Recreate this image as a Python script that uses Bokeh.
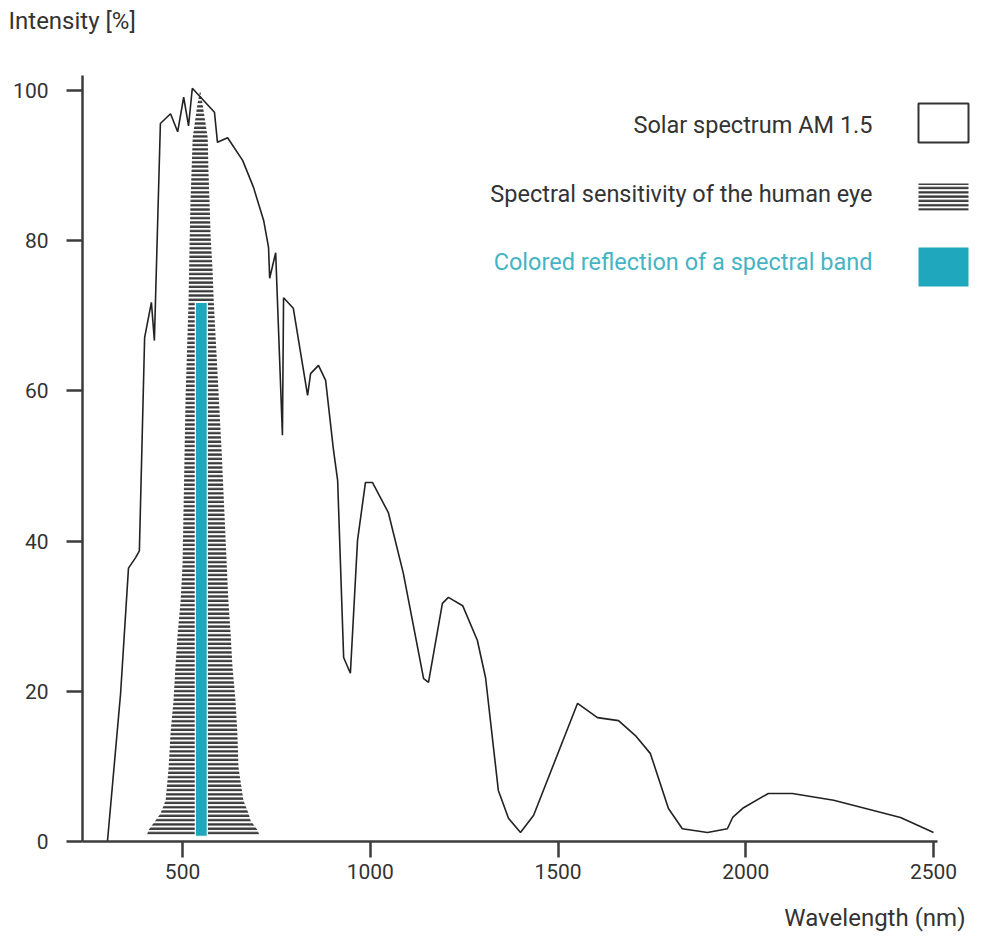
from bokeh.plotting import figure
from bokeh.models import Range1d, FixedTicker, Label
from bokeh.embed import file_html
from bokeh.resources import INLINE

# ---------------- data ----------------
solar_nm = [300, 335, 356, 375, 385, 399, 417, 425, 441, 468, 487, 503, 516, 526,
            585, 593, 620, 660, 689, 716, 729, 732, 748, 766, 769, 795, 833, 841,
            862, 881, 902, 913, 929, 947, 966, 987, 1006, 1048, 1088, 1142, 1155,
            1192, 1208, 1246, 1285, 1307, 1341, 1368, 1400, 1435, 1552, 1605, 1661,
            1706, 1746, 1794, 1831, 1898, 1951, 1965, 1994, 2060, 2124, 2234, 2412, 2500]
solar_pct = [0, 19.7, 36.4, 37.8, 38.7, 67.1, 71.8, 66.7, 95.6, 96.9, 94.5, 99.1, 95.3, 100.3,
             97.1, 93.1, 93.7, 90.7, 87.1, 82.7, 79.1, 75.0, 78.4, 54.1, 72.4, 71.0, 59.4, 62.3,
             63.4, 61.4, 52.1, 48.1, 24.5, 22.4, 40.1, 47.8, 47.8, 43.8, 35.7, 21.7, 21.2,
             31.7, 32.5, 31.4, 26.8, 21.8, 6.8, 3.1, 1.2, 3.5, 18.4, 16.5, 16.1,
             14.1, 11.7, 4.4, 1.7, 1.2, 1.7, 3.2, 4.5, 6.4, 6.4, 5.5, 3.2, 1.2]

# spectral sensitivity of the human eye (outline of the hatched area)
eye_nm = [405, 409, 428, 441, 455, 463, 468, 476, 481, 487, 495, 500, 508, 516, 519, 521,
          524, 527, 540, 547, 553, 567, 569, 572, 575, 580, 583, 604, 622, 628, 633, 641,
          646, 649, 662, 676, 681, 700, 705]
eye_pct = [0.8, 1.5, 2.8, 3.7, 5.5, 9.9, 14.4, 18.8, 23.2, 27.7, 32.1, 37.0, 59.1, 72.0, 80.4, 85.0,
           89.3, 93.7, 98.3, 100.0, 98.3, 93.7, 89.3, 85.0, 80.4, 76.0, 72.0, 52.1, 32.1, 27.7, 23.2, 18.8,
           14.4, 9.9, 5.5, 3.7, 2.8, 1.5, 0.8]

# coloured reflection of a spectral band
band_left = [534]
band_right = [566]
band_bottom = [0.7]
band_top = [71.8]

x_ticks = [500, 1000, 1500, 2000, 2500]
y_ticks = [0, 20, 40, 60, 80, 100]

legend_labels = ["Solar spectrum AM 1.5",
                 "Spectral sensitivity of the human eye",
                 "Colored reflection of a spectral band"]

# ---------------- style ----------------
FONT = "Roboto"
TEXT = "#333333"
AXIS = "#3c3c3c"
CYAN = "#1fa8bd"
CYAN_TEXT = "#45b4c4"
HATCH = "#3a3a3a"

# page-pixel -> data helpers (used only for placing axes, texts and legend)
PX0, PX_PER_NM = -5.7, 0.3755
PY0, PY_PER_PCT = 841.0, 7.51
def nm(px):
    return (px - PX0) / PX_PER_NM
def pct(py):
    return (PY0 - py) / PY_PER_PCT

W, H = 985, 940
Y_AXIS_PX, X_AXIS_END_PX, Y_AXIS_TOP_PX = 82, 937, 75
p = figure(width=W, height=H, output_backend="svg", toolbar_location=None,
           x_range=Range1d(nm(0), nm(W)), y_range=Range1d(pct(H), pct(0)),
           min_border_left=0, min_border_right=0, min_border_top=0, min_border_bottom=0)
p.outline_line_color = None
p.grid.visible = False
p.background_fill_color = "white"
p.border_fill_color = "white"

# hatched eye sensitivity
p.patch(eye_nm, eye_pct, fill_color=None, line_color=None,
        hatch_pattern="horizontal_line", hatch_color=HATCH, hatch_scale=4.3, hatch_weight=2.4)

# coloured band
p.quad(left=band_left, right=band_right, bottom=band_bottom, top=band_top,
       fill_color=CYAN, line_color="white", line_width=1.2)

# solar spectrum
p.line(solar_nm, solar_pct, line_color="#222222", line_width=1.6)

# axes
for ax in (p.xaxis, p.yaxis):
    ax.axis_line_color = AXIS
    ax.axis_line_width = 2.5
    ax.major_tick_line_color = AXIS
    ax.major_tick_line_width = 2.5
    ax.major_tick_in = 0
    ax.major_tick_out = 16
    ax.minor_tick_line_color = None
    ax.major_label_text_font = FONT
    ax.major_label_text_font_size = "21px"
    ax.major_label_text_color = TEXT
p.xaxis.ticker = FixedTicker(ticks=x_ticks)
p.yaxis.ticker = FixedTicker(ticks=y_ticks)
p.xaxis.fixed_location = 0
p.yaxis.fixed_location = nm(Y_AXIS_PX)
p.xaxis.bounds = (nm(Y_AXIS_PX), nm(X_AXIS_END_PX))
p.yaxis.bounds = (0, pct(Y_AXIS_TOP_PX))
p.xaxis.major_label_standoff = 6
p.yaxis.major_label_standoff = 18

# axis titles
p.add_layout(Label(x=nm(8), y=pct(20), text="Intensity [%]", text_font=FONT,
                   text_font_size="24px", text_color=TEXT, text_baseline="middle", text_align="left"))
p.add_layout(Label(x=nm(965), y=pct(917), text="Wavelength (nm)", text_font=FONT,
                   text_font_size="24px", text_color=TEXT, text_baseline="middle", text_align="right"))

# legend
legend_y = [pct(124), pct(193), pct(261)]
legend_colors = [TEXT, TEXT, CYAN_TEXT]
for lab, yy, col in zip(legend_labels, legend_y, legend_colors):
    p.add_layout(Label(x=nm(872), y=yy, text=lab, text_font=FONT, text_font_size="23.5px",
                       text_color=col, text_baseline="middle", text_align="right"))
p.quad(left=[nm(918)], right=[nm(968)], bottom=[pct(142)], top=[pct(103)],
       fill_color="white", line_color="#333333", line_width=2)
p.quad(left=[nm(918)], right=[nm(968)], bottom=[pct(210)], top=[pct(183)],
       fill_color=None, line_color=None,
       hatch_pattern="horizontal_line", hatch_color=HATCH, hatch_scale=4.3, hatch_weight=2.4)
p.quad(left=[nm(918)], right=[nm(968)], bottom=[pct(286)], top=[pct(247)],
       fill_color=CYAN, line_color=None)

open("out.html", "w").write(file_html(p, INLINE))
